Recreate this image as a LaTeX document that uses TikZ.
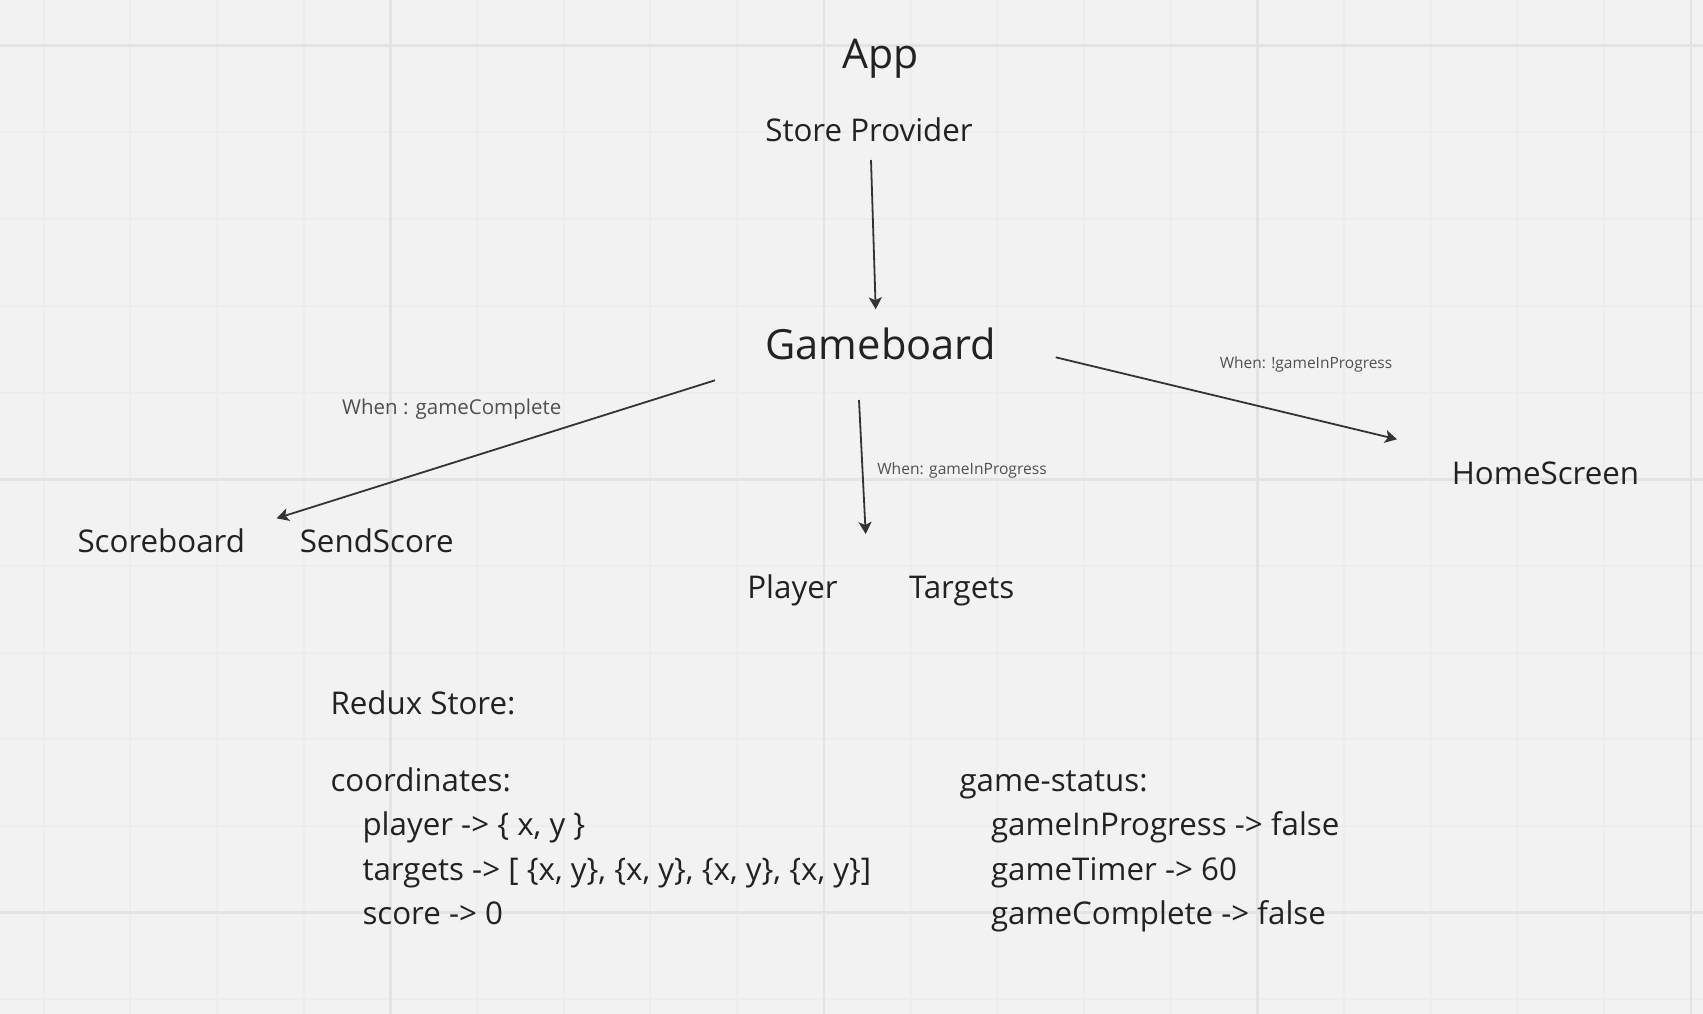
\documentclass[tikz,border=0pt]{standalone}
\usepackage{fontspec}
\setmainfont{Open Sans}
\usetikzlibrary{arrows.meta,calc}
\definecolor{bg}{HTML}{F2F2F2}
\definecolor{gridminor}{HTML}{EDEDED}
\definecolor{gridmajor}{HTML}{E3E3E3}
\definecolor{ink}{HTML}{222222}
\definecolor{lbl}{HTML}{505050}
\definecolor{arrowc}{HTML}{333333}
\begin{document}
\begin{tikzpicture}[x=1pt,y=-1pt,
  txt/.style={inner sep=0pt, outer sep=0pt, text=ink, font=\fontsize{31.3}{37}\selectfont},
  big/.style={txt, font=\fontsize{41.6}{50}\selectfont},
  lab/.style={inner sep=0pt, outer sep=0pt, text=lbl},
  arr/.style={draw=arrowc, line width=1.8pt, -{Stealth[length=12pt,width=13pt,inset=3pt]}}]
\fill[bg] (0,0) rectangle (1703,1014);
\useasboundingbox (0,0) rectangle (1703,1014);
% grid
\foreach \i in {0,...,19} \draw[gridminor, line width=2pt] ({43.5+86.7*\i},0) -- ++(0,1014);
\foreach \j in {0,...,11} \draw[gridminor, line width=2pt] (0,{45.7+86.7*\j}) -- ++(1703,0);
\foreach \i in {4,9,14,19} \draw[gridmajor, line width=2.6pt] ({43.5+86.7*\i},0) -- ++(0,1014);
\foreach \j in {0,5,10} \draw[gridmajor, line width=2.6pt] (0,{45.7+86.7*\j}) -- ++(1703,0);

% main nodes
\node[big, anchor=base, font=\fontsize{41}{49}\selectfont] (app) at (880.5,69) {App};
\node[txt, anchor=base] (sp) at (869,142) {Store Provider};
\node[big, anchor=base] (gb) at (881,359) {Gameboard};
\node[txt, anchor=base] (sb) at (161.3,552.3) {Scoreboard};
\node[txt, anchor=base] (ss) at (376.7,552.3) {SendScore};
\node[txt, anchor=base] (pl) at (792.5,598) {Player};
\node[txt, anchor=base] (tg) at (961.7,598) {Targets};
\node[txt, anchor=base] (hs) at (1545.5,484.3) {HomeScreen};

% connector labels
\node[lab, anchor=base, font=\fontsize{20.5}{24}\selectfont] (lgc) at (451.7,414) {When : gameComplete};
\node[lab, anchor=base, font=\fontsize{15.6}{19}\selectfont] (lgip) at (962,474.3) {When: gameInProgress};
\node[lab, anchor=base, font=\fontsize{15.5}{19}\selectfont] (lngip) at (1306,368.3) {When: !gameInProgress};

% connectors
\draw[arr] ($(sp.base)+(2,18)$) -- ($(gb.base)+(-5.3,-49.7)$);
\draw[arr] ($(gb.base)+(-166,21.3)$) -- ($(sb.base)+(115.4,-34)$);
\draw[arr] ($(gb.base)+(-22,41)$) -- ($(pl.base)+(73.2,-64)$);
\draw[arr] ($(gb.base)+(174.7,-1.7)$) -- ($(hs.base)+(-148.5,-45)$);

% redux store text
\node[txt, anchor=base west] (rs) at (330.5,714.5) {Redux Store:};
\node[txt, anchor=base west] (co) at (330.5,791) {coordinates:};
\node[txt, anchor=base west] (cpl) at (362.5,835.5) {player -> \{ x, y \}};
\node[txt, anchor=base west] (ctg) at (362.5,880) {targets -> [ \{x, y\}, \{x, y\}, \{x, y\}, \{x, y\}]};
\node[txt, anchor=base west] (csc) at (362.5,924.5) {score -> 0};
\node[txt, anchor=base west] (gs) at (959.5,791) {game-status:};
\node[txt, anchor=base west] (gsp) at (991,835.5) {gameInProgress -> false};
\node[txt, anchor=base west] (gst) at (991,880) {gameTimer -> 60};
\node[txt, anchor=base west] (gsc) at (991,924.5) {gameComplete -> false};
\end{tikzpicture}
\end{document}
